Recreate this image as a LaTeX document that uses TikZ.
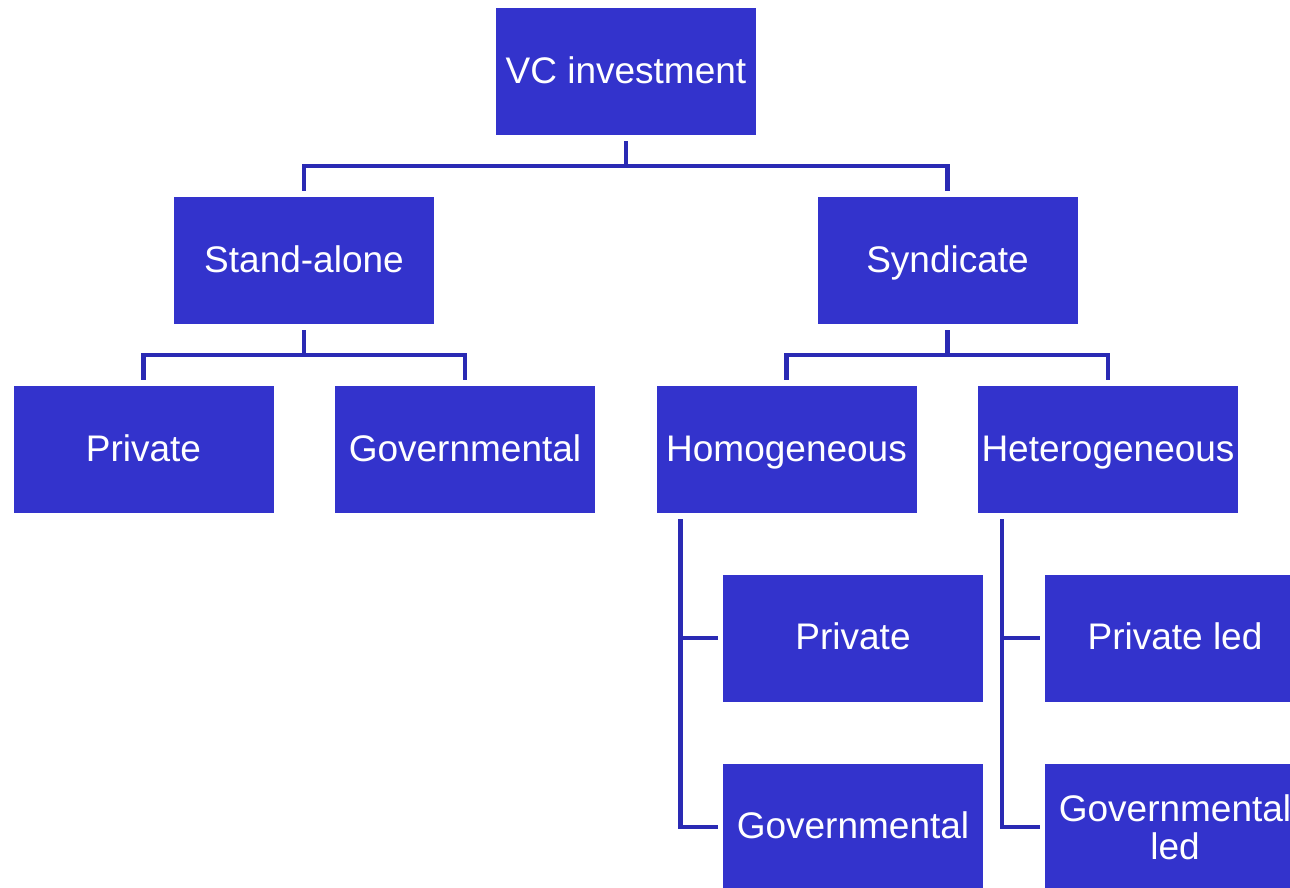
\documentclass[tikz,border=0pt]{standalone}
\usepackage{fontspec}
\setmainfont{Liberation Sans}
\usetikzlibrary{calc}
\definecolor{boxfill}{RGB}{51,51,204}
\definecolor{linecol}{RGB}{42,42,180}
\tikzset{
  cbox/.style={rectangle, fill=boxfill, draw=none, minimum width=260pt, minimum height=127pt, inner sep=0pt, text=white, align=center, font=\fontsize{37}{38}\selectfont},
  onel/.style={cbox, text height=26.6pt, text depth=3.4pt},
  conn/.style={draw=linecol, line width=4.5pt}
}
\begin{document}
\begin{tikzpicture}[x=1pt,y=-1pt]
\clip (0,0) rectangle (1290,887);
\fill[white] (0,0) rectangle (1290,887);
\node[onel] (vc) at (626,71.5) {VC investment};
\node[onel] (sa) at (304,260.5) {Stand-alone};
\node[onel] (syn) at (947.5,260.5) {Syndicate};
\node[onel] (pr) at (143.5,449.5) {Private};
\node[onel] (gv) at (465,449.5) {Governmental};
\node[onel] (hom) at (786.5,449.5) {Homogeneous};
\node[onel] (het) at (1108,449.5) {Heterogeneous};
\node[onel] (ps) at (853,638) {Private};
\node[onel] (gs) at (853,827) {Governmental};
\node[onel] (pl) at (1175,638) {Private led};
\node[cbox] (gl) at (1175,827) {Governmental\\led};
% level 1
\draw[conn] ($(vc.south)+(0,-6pt)$) -- ++(0,-25pt) coordinate (j1);
\draw[conn] ($(sa.north)+(0,6pt)$) |- (j1) -| ($(syn.north)+(0,6pt)$);
% stand-alone
\draw[conn] ($(sa.south)+(0,-6pt)$) -- ++(0,-25pt) coordinate (j2);
\draw[conn] ($(pr.north)+(0,6pt)$) |- (j2) -| ($(gv.north)+(0,6pt)$);
% syndicate
\draw[conn] ($(syn.south)+(0,-6pt)$) -- ++(0,-25pt) coordinate (j3);
\draw[conn] ($(hom.north)+(0,6pt)$) |- (j3) -| ($(het.north)+(0,6pt)$);
% homogeneous
\coordinate (h1) at ($(hom.south west)+(24pt,-6pt)$);
\draw[conn] (h1) |- ($(ps.west)+(-5pt,0)$);
\draw[conn] (h1) |- ($(gs.west)+(-5pt,0)$);
% heterogeneous
\coordinate (h2) at ($(het.south west)+(24pt,-6pt)$);
\draw[conn] (h2) |- ($(pl.west)+(-5pt,0)$);
\draw[conn] (h2) |- ($(gl.west)+(-5pt,0)$);
\end{tikzpicture}
\end{document}
